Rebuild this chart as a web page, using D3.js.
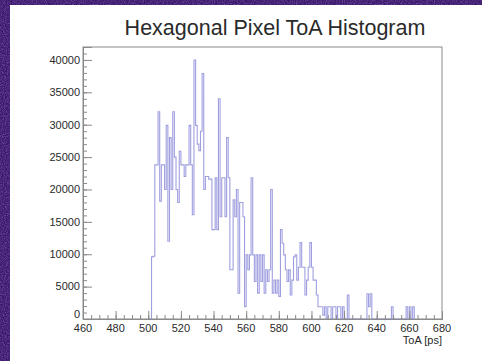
<!DOCTYPE html>
<html lang="en">
<head>
	<meta charset="UTF-8" />
	<title>Hexagonal Pixel ToA Histogram</title>
	<script type="text/javascript" src="https://cdn.jsdelivr.net/npm/d3@7/dist/d3.min.js"></script>
	<style>
		body { margin: 0; background: #3b1a6c; }
		text { font-family: "Liberation Sans", Arial, Helvetica, sans-serif; fill: #2a2a2a; }
	</style>
</head>
<body>
	<svg id="vis" width="482" height="361"></svg>
	<script type="text/javascript">
		// Histogram data: 1 ps bins, first bin starts at 500 ps
		var chartTitle = "Hexagonal Pixel ToA Histogram";
		var xTitle = "ToA [ps]";
		var xRange = [460, 680];
		var yRange = [0, 42000];
		var firstBin = 500;
		var binWidth = 1;
		var counts = [
			0, 0, 9600, 9700, 23800, 23800, 32000, 18200, 23800, 23800,      // 500-509
			20000, 29900, 12000, 28000, 20000, 32000, 25000, 20000, 18000, 25900, // 510-519
			23800, 23800, 22000, 23800, 23800, 29900, 23800, 16100, 40000, 29900, // 520-529
			27000, 26000, 29000, 37900, 20000, 22000, 22000, 21600, 21600, 13800, // 530-539
			13800, 21800, 13800, 34000, 15800, 21800, 21800, 15800, 28000, 21800, // 540-549
			7600, 7600, 18400, 15800, 20000, 4000, 18000, 18000, 15800, 1900,     // 550-559
			9900, 7600, 9900, 21800, 9900, 5800, 9900, 4000, 9900, 5800,          // 560-569
			9900, 4000, 7600, 5800, 7600, 20000, 4000, 6000, 4000, 6000,          // 570-579
			3500, 13800, 11700, 9900, 7600, 5800, 7600, 3700, 6000, 9600,         // 580-589
			9900, 6000, 8000, 11800, 8000, 8000, 3700, 6000, 8000, 11800,         // 590-599
			8000, 6000, 6000, 3700, 1900, 1900, 1900, 600, 1900, 0,               // 600-609
			1900, 1900, 0, 1900, 1900, 0, 1900, 1900, 0, 1900,                    // 610-619
			0, 0, 3700, 0, 0, 0, 0, 0, 0, 0,                                      // 620-629
			0, 0, 0, 0, 3900, 1900, 3900, 0, 0, 0,                                // 630-639
			0, 0, 0, 0, 0, 0, 0, 0, 0, 1900,                                      // 640-649
			0, 0, 0, 0, 0, 0, 0, 0, 1900, 0,                                      // 650-659
			1900, 0, 1900                                                         // 660-662
		];
		var xMajor = d3.range(460, 681, 20);
		var xMinor = d3.range(460, 681, 5);
		var yMajor = d3.range(0, 42001, 5000);
		var yMinor = d3.range(0, 42001, 1000);

		var svg = d3.select("#vis");

		// Purple textured border + white canvas
		var defs = svg.append("defs");
		var noise = defs.append("filter").attr("id", "grain")
			.attr("x", 0).attr("y", 0).attr("width", "100%").attr("height", "100%");
		noise.append("feTurbulence").attr("type", "fractalNoise")
			.attr("baseFrequency", 0.9).attr("numOctaves", 2).attr("seed", 4);
		noise.append("feColorMatrix").attr("type", "matrix")
			.attr("values", "0 0 0 0 0.55  0 0 0 0 0.25  0 0 0 0 0.85  0 0 0 0.9 -0.35");
		svg.append("rect").attr("width", 482).attr("height", 361).attr("fill", "#3b1a6c");
		svg.append("rect").attr("width", 482).attr("height", 361).attr("filter", "url(#grain)");
		svg.append("rect").attr("x", 10).attr("y", 5).attr("width", 472).attr("height", 356).attr("fill", "#ffffff");

		// Scales
		var scaleX = d3.scaleLinear().domain(xRange).range([83, 442]);
		var scaleY = d3.scaleLinear().domain(yRange).range([319, 47]);

		// Title
		svg.append("text")
			.attr("x", 275).attr("y", 35)
			.attr("text-anchor", "middle")
			.style("font-size", "21.5px")
			.text(chartTitle);

		// Frame
		svg.append("rect")
			.attr("x", scaleX(xRange[0])).attr("y", scaleY(yRange[1]))
			.attr("width", scaleX(xRange[1]) - scaleX(xRange[0]))
			.attr("height", scaleY(yRange[0]) - scaleY(yRange[1]))
			.attr("fill", "none").attr("stroke", "#8a8a8a").attr("stroke-width", 1);

		// Histogram outline (step)
		var pts = counts.map(function(c, i) { return [firstBin + i * binWidth, c]; });
		pts.push([firstBin + counts.length * binWidth, 0]);
		var step = d3.line()
			.x(function(d) { return scaleX(d[0]); })
			.y(function(d) { return scaleY(d[1]); })
			.curve(d3.curveStepAfter);
		svg.append("path")
			.attr("d", step(pts))
			.attr("fill", "none")
			.attr("stroke", "#8e8edb")
			.attr("stroke-width", 1.1)
			.attr("stroke-opacity", 0.85);

		// X axis: ticks pointing up, labels below
		var xAxis = d3.axisTop(scaleX).tickValues(xMajor).tickSize(8).tickFormat("");
		var xAxisMinor = d3.axisTop(scaleX).tickValues(xMinor).tickSize(4).tickFormat("");
		var gx = svg.append("g").attr("transform", "translate(0,319)");
		gx.append("g").call(xAxisMinor);
		gx.append("g").call(xAxis);
		gx.selectAll("path.domain").attr("stroke", "#8a8a8a");
		gx.selectAll(".tick line").attr("stroke", "#8a8a8a");
		gx.selectAll("text.xl").data(xMajor).enter().append("text")
			.attr("class", "xl")
			.attr("x", function(d) { return scaleX(d); })
			.attr("y", 12.5)
			.attr("text-anchor", "middle")
			.style("font-size", "11px")
			.text(function(d) { return d; });

		// Y axis: ticks pointing right, labels left
		var yAxis = d3.axisRight(scaleY).tickValues(yMajor).tickSize(9).tickFormat("");
		var yAxisMinor = d3.axisRight(scaleY).tickValues(yMinor).tickSize(4).tickFormat("");
		var gy = svg.append("g").attr("transform", "translate(83,0)");
		gy.append("g").call(yAxisMinor);
		gy.append("g").call(yAxis);
		gy.selectAll("path.domain").attr("stroke", "#8a8a8a");
		gy.selectAll(".tick line").attr("stroke", "#8a8a8a");
		gy.selectAll("text.yl").data(yMajor).enter().append("text")
			.attr("class", "yl")
			.attr("x", -3)
			.attr("y", function(d) { return d === 0 ? scaleY(d) - 5 : scaleY(d); })
			.attr("dy", "0.35em")
			.attr("text-anchor", "end")
			.style("font-size", "11px")
			.text(function(d) { return d; });

		// X axis title
		svg.append("text")
			.attr("x", 442).attr("y", 344)
			.attr("text-anchor", "end")
			.style("font-size", "11px")
			.text(xTitle);
	</script>
</body>
</html>
